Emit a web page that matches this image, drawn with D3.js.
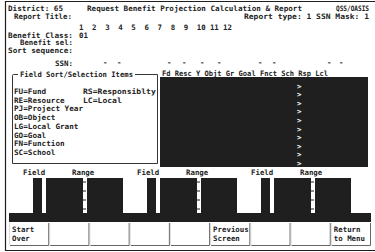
<!DOCTYPE html>
<html>
<head>
<meta charset="utf-8">
<script src="https://cdn.jsdelivr.net/npm/d3@7"></script>
<style>
  body { margin: 0; background: #fff; }
  text { font-family: "DejaVu Sans Mono", monospace; font-size: 7.4px; font-weight: bold; fill: #222; }
  .inv { fill: #fff; }
</style>
</head>
<body>
<div id="screen"></div>
<script>
// screen content
var titleLeft = "District: 65";
var titleMid = "Request Benefit Projection Calculation & Report";
var titleRight = "QSS/OASIS";
var reportTitle = "Report Title:";
var reportType = "Report type: 1 SSN Mask: 1";
var columnNumbers = ["1","2","3","4","5","6","7","8","9","10","11","12"];
var promptLabels = ["Benefit Class:", "Benefit sel:", "Sort sequence:"];
var benefitClass = "01";
var boxTitle = "Field Sort/Selection Items";
var headerFields = ["Fd","Resc","Y","Objt","Gr","Goal","Fnct","Sch","Rsp","Lcl"];
var sortItemsLeft = ["FU=Fund","RE=Resource","PJ=Project Year","OB=Object","LG=Local Grant","GO=Goal","FN=Function","SC=School"];
var sortItemsRight = ["RS=Responsiblty","LC=Local"];
var selectRows = [">",">",">",">",">",">",">",">",">",">"];
var rangeGroups = ["A","B","C"];
var rangeTicks = ["-","-","-","-"];
var buttonLabels = [["Start","Over"],[],[],[],[],["Previous","Screen"],[],[],["Return","to Menu"]];

(function() {
  var width = 375, height = 252, ink = "#1f1f1f";

  var svg = d3.select("#screen")
            .append("svg")
            .attr("width", width)
            .attr("height", height);

  function label(g, x, y, str, len) {
    var t = g.append("text").attr("x", x).attr("y", y).text(str);
    if (len) t.attr("textLength", len).attr("lengthAdjust", "spacingAndGlyphs");
    return t;
  }

  /* outer frame */
  svg.append("path")
      .attr("d", "M375,1.5H5.5V250.5H375")
      .attr("fill", "none")
      .attr("stroke", ink)
      .attr("stroke-width", 1.2);

  /* title rows */
  label(svg, 8, 11, titleLeft, 55);
  label(svg, 87, 11, titleMid, 215);
  label(svg, 336, 11, titleRight, 33);
  label(svg, 14, 18.5, reportTitle, 58);
  label(svg, 244, 18.5, reportType, 125);

  var colX = d3.scalePoint().domain(columnNumbers).range([79, 223]);
  svg.selectAll(".colnum")
      .data(columnNumbers)
      .enter().append("text")
      .attr("class", "colnum")
      .attr("x", d => colX(d))
      .attr("y", 29.8)
      .text(d => d);

  var promptX = [8, 20, 8];
  var promptY = d3.scalePoint().domain(promptLabels).range([37.8, 52.8]);
  svg.selectAll(".prompt")
      .data(promptLabels)
      .enter().append("text")
      .attr("class", "prompt")
      .attr("x", (d, i) => promptX[i])
      .attr("y", d => promptY(d))
      .attr("textLength", (d, i) => 73 - promptX[i])
      .attr("lengthAdjust", "spacingAndGlyphs")
      .text(d => d);
  label(svg, 79, 37.8, benefitClass);

  label(svg, 55, 66, "SSN:", 18);
  var ssnDashX = [103, 117, 167, 182, 200, 217, 258, 272, 327, 339];
  svg.selectAll(".dash")
      .data(ssnDashX)
      .enter().append("text")
      .attr("class", "dash")
      .attr("x", d => d)
      .attr("y", 65)
      .text("-");

  /* selection items box */
  svg.append("path")
      .attr("d", "M18,74.5H13.5Q12.5,74.5 12.5,75.5V163.5H157.5V74.5H135")
      .attr("fill", "none")
      .attr("stroke", ink)
      .attr("stroke-width", 0.9);
  label(svg, 20, 77, boxTitle, 113);

  var itemY = d3.scalePoint().domain(d3.range(sortItemsLeft.length)).range([94, 155]);
  svg.selectAll(".itemL")
      .data(sortItemsLeft)
      .enter().append("text")
      .attr("x", 14)
      .attr("y", (d, i) => itemY(i))
      .attr("textLength", d => d.length * 4.6)
      .attr("lengthAdjust", "spacingAndGlyphs")
      .text(d => d);
  svg.selectAll(".itemR")
      .data(sortItemsRight)
      .enter().append("text")
      .attr("x", 83)
      .attr("y", (d, i) => itemY(i))
      .attr("textLength", d => d.length * 4.85)
      .attr("lengthAdjust", "spacingAndGlyphs")
      .text(d => d);

  /* entry panel */
  label(svg, 162, 76, headerFields.join(" "), 166);
  svg.append("rect")
      .attr("x", 160).attr("y", 77)
      .attr("width", 208).attr("height", 90)
      .attr("fill", ink);
  var rowY = d3.scalePoint().domain(d3.range(selectRows.length)).range([88.5, 166]);
  svg.selectAll(".sel")
      .data(selectRows)
      .enter().append("text")
      .attr("class", "inv")
      .attr("x", 297)
      .attr("y", (d, i) => rowY(i))
      .text(d => d);

  /* field / range groups */
  var groupX = d3.scalePoint().domain(rangeGroups).range([0, 228]);
  var tickY = d3.scalePoint().domain(d3.range(rangeTicks.length)).range([182, 209]);

  var grp = svg.selectAll(".grp")
      .data(rangeGroups)
      .enter().append("g")
      .attr("transform", d => "translate(" + groupX(d) + ",0)");

  grp.append("text").attr("x", 23).attr("y", 175).text("Field");
  grp.append("text").attr("x", 72).attr("y", 175).text("Range");
  grp.append("rect").attr("x", 33).attr("y", 178).attr("width", 9).attr("height", 36).attr("fill", ink);
  grp.append("rect").attr("x", 46).attr("y", 178).attr("width", 37).attr("height", 36).attr("fill", ink);
  grp.append("rect").attr("x", 87).attr("y", 178).attr("width", 36).attr("height", 36).attr("fill", ink);
  grp.selectAll(".tick")
      .data(rangeTicks)
      .enter().append("line")
      .attr("x1", 83).attr("x2", 86)
      .attr("y1", (d, i) => tickY(i)).attr("y2", (d, i) => tickY(i))
      .attr("stroke", ink)
      .attr("stroke-width", 1);

  svg.append("rect")
      .attr("x", 9).attr("y", 213)
      .attr("width", 362).attr("height", 9)
      .attr("fill", ink);

  /* function key buttons */
  var btnX = d3.scaleBand().domain(d3.range(buttonLabels.length)).range([9, 371]);
  var btn = svg.selectAll(".btn")
      .data(buttonLabels)
      .enter().append("g")
      .attr("transform", (d, i) => "translate(" + btnX(i) + ",0)");
  btn.append("path")
      .attr("d", "M1,245.5H" + (btnX.bandwidth() - 0.5) + "V223")
      .attr("fill", "none")
      .attr("stroke", "#555")
      .attr("stroke-width", 0.9);
  btn.append("line")
      .attr("x1", 0.5).attr("x2", 0.5).attr("y1", 223).attr("y2", 245)
      .attr("stroke", "#ccc")
      .attr("stroke-width", 0.7);
  btn.selectAll("text")
      .data(d => d)
      .enter().append("text")
      .attr("x", 3)
      .attr("y", (d, i) => 232 + i * 9)
      .text(d => d);
})();
</script>
</body>
</html>
